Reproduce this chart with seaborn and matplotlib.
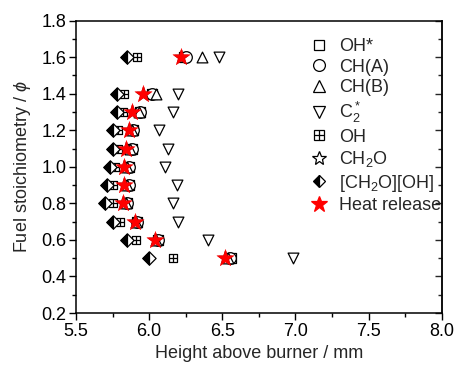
import numpy as np
import pandas as pd
import matplotlib
matplotlib.use("Agg")
import matplotlib.pyplot as plt
from matplotlib.markers import MarkerStyle
from matplotlib.lines import Line2D
from matplotlib.ticker import MultipleLocator, FormatStrFormatter
import seaborn as sns

# Fuel stoichiometry for each measurement row
phi_main = [1.6, 1.4, 1.3, 1.2, 1.1, 1.0, 0.9, 0.8, 0.7, 0.6, 0.5]

# Peak heights above burner (mm) per species
oh_star = [6.24, 6.02, 5.94, 5.89, 5.88, 5.86, 5.86, 5.85, 5.92, 6.06, 6.56]
ch_a    = [6.25, 6.02, 5.94, 5.89, 5.88, 5.86, 5.86, 5.85, 5.92, 6.06, 6.55]
ch_b    = [6.36, 6.05, 5.93, 5.88, 5.87, 5.85, 5.85, 5.84, 5.91, 6.05, 6.54]
c2_star = [6.48, 6.20, 6.16, 6.07, 6.13, 6.11, 6.19, 6.16, 6.20, 6.40, 6.98]
oh      = [5.92, 5.83, 5.82, 5.79, 5.79, 5.77, 5.75, 5.75, 5.80, 5.91, 6.16]
ch2o    = [6.22, 5.96, 5.88, 5.86, 5.84, 5.83, 5.83, 5.82, 5.90, 6.04, 6.52]
ch2o_oh = [5.85, 5.78, 5.78, 5.75, 5.75, 5.73, 5.71, 5.70, 5.75, 5.85, 6.00]
heat    = [6.22, 5.96, 5.88, 5.86, 5.84, 5.83, 5.83, 5.82, 5.90, 6.04, 6.52]

labels = ["OH*", "CH(A)", "CH(B)", "C$_2^*$", "OH", "CH$_2$O",
          "[CH$_2$O][OH]", "Heat release"]

sns.set_theme(style="ticks")
plt.rcParams["font.family"] = ["Liberation Sans", "DejaVu Sans"]
plt.rcParams["mathtext.fontset"] = "custom"
plt.rcParams["mathtext.rm"] = "Liberation Sans"
plt.rcParams["mathtext.it"] = "Liberation Sans:italic"

fig = plt.figure(figsize=(4.55, 3.67), dpi=100)
ax = fig.add_axes([0.167, 0.147, 0.804, 0.797])

def df(x):
    return pd.DataFrame({"h": x, "phi": phi_main})

open_kw = dict(facecolor="white", edgecolor="black", linewidth=0.9, legend=False)

sns.scatterplot(data=df(oh_star), x="h", y="phi", marker="s", s=50, ax=ax, zorder=3, **open_kw)
sns.scatterplot(data=df(ch_a), x="h", y="phi", marker="o", s=70, ax=ax, zorder=3, **open_kw)
sns.scatterplot(data=df(ch_b), x="h", y="phi", marker="^", s=60, ax=ax, zorder=3, **open_kw)
sns.scatterplot(data=df(c2_star), x="h", y="phi", marker="v", s=60, ax=ax, zorder=3, **open_kw)
# boxed plus: open square with a cross drawn over it
sns.scatterplot(data=df(oh), x="h", y="phi", marker="s", s=40, ax=ax, zorder=3, **open_kw)
sns.scatterplot(data=df(oh), x="h", y="phi", marker="+", s=40, color="black",
                linewidth=0.9, ax=ax, zorder=3, legend=False)
sns.scatterplot(data=df(ch2o), x="h", y="phi", marker="*", s=100, ax=ax, zorder=3, **open_kw)
# half-filled diamond: white full diamond, black left half on top
sns.scatterplot(data=df(ch2o_oh), x="h", y="phi", marker="D", s=45, ax=ax, zorder=4, **open_kw)
sns.scatterplot(data=df(ch2o_oh), x="h", y="phi", marker=MarkerStyle("D", fillstyle="left"),
                s=45, color="black", edgecolor="black", linewidth=0.9, ax=ax, zorder=4,
                legend=False)
sns.scatterplot(data=df(heat), x="h", y="phi", marker="*", s=170, color="red",
                edgecolor="red", linewidth=0.3, ax=ax, zorder=5, legend=False)

ax.set_xlim(5.5, 8.0)
ax.set_ylim(0.2, 1.8)
ax.xaxis.set_major_locator(MultipleLocator(0.5))
ax.xaxis.set_minor_locator(MultipleLocator(0.25))
ax.yaxis.set_major_locator(MultipleLocator(0.2))
ax.yaxis.set_minor_locator(MultipleLocator(0.1))
ax.xaxis.set_major_formatter(FormatStrFormatter("%.1f"))
ax.yaxis.set_major_formatter(FormatStrFormatter("%.1f"))

ax.tick_params(which="both", direction="out", labelsize=13, colors="black",
               top=False, right=False, pad=2)
ax.tick_params(which="major", length=5, width=1)
ax.tick_params(which="minor", length=3, width=1)
for sp in ax.spines.values():
    sp.set_linewidth(1.1)
    sp.set_color("black")
    sp.set_visible(True)
# right axis ticks point into the plot
ax2 = ax.secondary_yaxis("right")
ax2.yaxis.set_major_locator(MultipleLocator(0.2))
ax2.yaxis.set_minor_locator(MultipleLocator(0.1))
ax2.tick_params(which="both", direction="in", labelright=False)
ax2.tick_params(which="major", length=5, width=1)
ax2.tick_params(which="minor", length=3, width=1)
ax2.spines["right"].set_linewidth(1.1)

ax.set_xlabel("Height above burner / mm", fontsize=13, labelpad=4)
ax.set_ylabel(r"Fuel stoichiometry / $\it{\phi}$", fontsize=13, labelpad=6)

def h(marker, ms, fc="white", ec="black", **kw):
    return Line2D([], [], linestyle="none", marker=marker, markersize=ms,
                  markerfacecolor=fc, markeredgecolor=ec, markeredgewidth=0.9, **kw)

handles = [
    h("s", 7), h("o", 8.5), h("^", 8), h("v", 8),
    (h("s", 6.5), h("+", 6.5)),
    h("*", 10),
    h("D", 6.5, fc="black", fillstyle="left", markerfacecoloralt="white"),
    h("*", 12, fc="red", ec="red"),
]
leg = ax.legend(handles, labels, loc="upper right", bbox_to_anchor=(1.018, 0.965),
                frameon=False, fontsize=13, handlelength=1.0, handletextpad=0.6,
                labelspacing=0.2, borderaxespad=0.0)

fig.savefig("out.png", dpi=100)
